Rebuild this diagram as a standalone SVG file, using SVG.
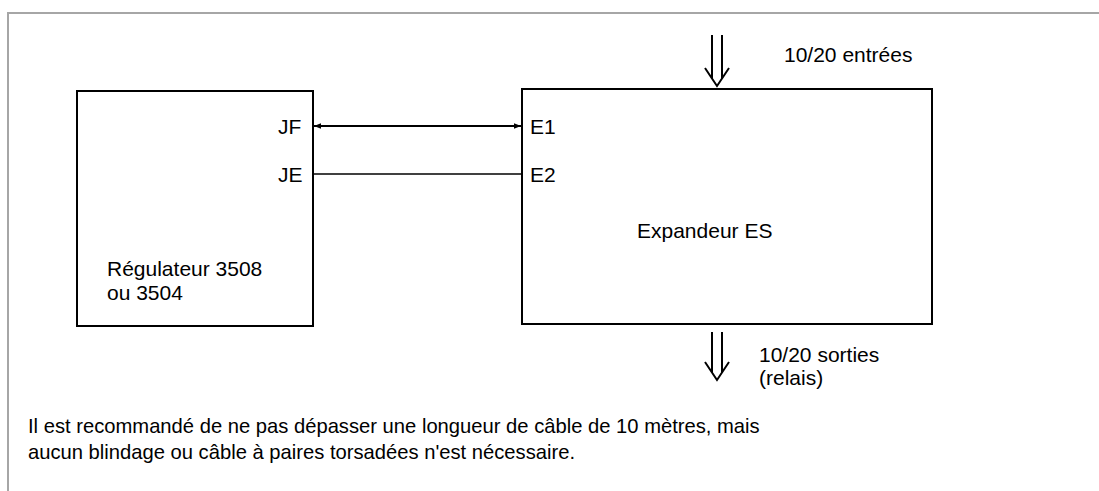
<svg xmlns="http://www.w3.org/2000/svg" width="1099" height="491" viewBox="0 0 1099 491">
<style>
text{font-family:"Liberation Sans",Arial,sans-serif;font-size:21px;fill:#000}
.note{font-size:20.2px}
.box{fill:none;stroke:#000;stroke-width:2}
.ln{fill:none;stroke:#000;stroke-width:2}
</style>
<defs>
<marker id="ah" viewBox="0 0 10 10" refX="10" refY="5" markerWidth="8" markerHeight="7" orient="auto-start-reverse" markerUnits="userSpaceOnUse"><path d="M0,1 L10,5 L0,9 z" fill="#000"/></marker>
</defs>
<rect width="1099" height="491" fill="#fff"/>
<path d="M8,491 V13 H1099" fill="none" stroke="#a6a6a6" stroke-width="2"/>
<g id="regulateur">
<rect class="box" x="77" y="91" width="236" height="235"/>
<text x="278" y="134">JF</text>
<text x="278" y="182">JE</text>
<text x="107" y="276">Régulateur 3508</text>
<text x="107" y="300">ou 3504</text>
</g>
<g id="expandeur">
<rect class="box" x="522" y="89" width="410" height="235"/>
<text x="530" y="134">E1</text>
<text x="530" y="182">E2</text>
<text x="637" y="238">Expandeur ES</text>
</g>
<g id="entrees">
<path class="ln" d="M712,35 V79 M722,35 V79 M705,68 L717,86 L729,68"/>
<text x="784" y="62">10/20 entrées</text>
</g>
<g id="sorties">
<path class="ln" d="M712,332 V373 M722,332 V373 M705,362 L717,380 L729,362"/>
<text x="759" y="362">10/20 sorties</text>
<text x="759" y="385">(relais)</text>
</g>
<g id="connectors">
<line x1="314" y1="126" x2="521" y2="126" stroke="#000" stroke-width="2" marker-start="url(#ah)" marker-end="url(#ah)"/>
<line x1="314" y1="174" x2="521" y2="174" stroke="#000" stroke-width="1.6"/>
</g>
<g id="note">
<text class="note" x="28" y="433">Il est recommandé de ne pas dépasser une longueur de câble de 10 mètres, mais</text>
<text class="note" x="28" y="459">aucun blindage ou câble à paires torsadées n'est nécessaire.</text>
</g>
</svg>
